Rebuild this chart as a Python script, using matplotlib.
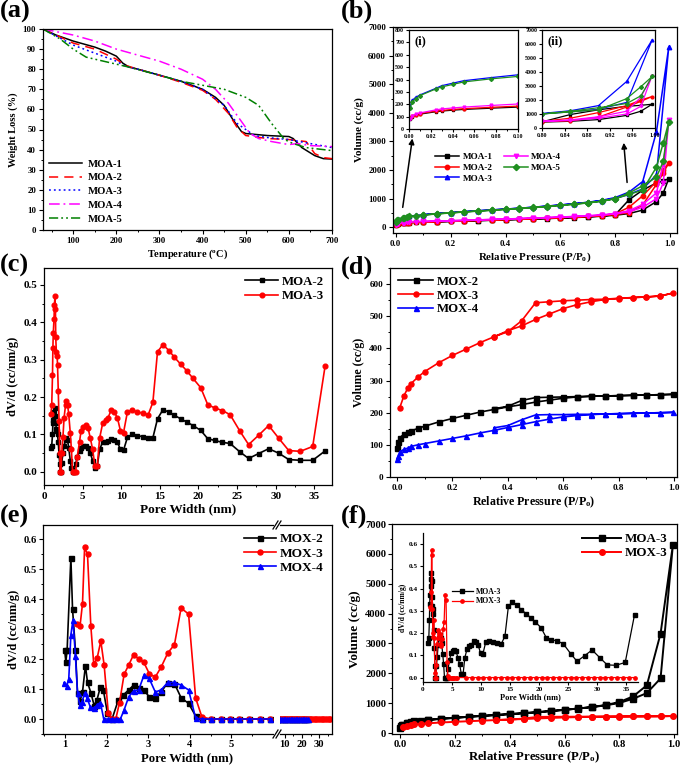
import numpy as np
import matplotlib
matplotlib.use("Agg")
import matplotlib.pyplot as plt
from matplotlib.ticker import MultipleLocator, FormatStrFormatter, FixedLocator
from matplotlib.lines import Line2D

plt.rcParams['font.family'] = 'Liberation Serif'
plt.rcParams['font.weight'] = 'bold'
plt.rcParams['axes.labelweight'] = 'bold'
plt.rcParams['mathtext.fontset'] = 'custom'
plt.rcParams['mathtext.rm'] = 'Liberation Serif:bold'
plt.rcParams['mathtext.it'] = 'Liberation Serif:bold:italic'
plt.rcParams['mathtext.bf'] = 'Liberation Serif:bold'
plt.rcParams['axes.linewidth'] = 0.9

W, H = 685, 767
nan = np.nan

# ---------------- (a) TGA ----------------
tga_names = ['MOA-1', 'MOA-2', 'MOA-3', 'MOA-4', 'MOA-5']
tga_x1 = [30, 60, 100, 150, 175, 200, 215, 230, 250, 300, 350, 400, 430, 450, 470, 490, 500, 550, 600, 610, 630, 660, 680, 700]
tga_y1 = [100, 97, 94, 91, 89, 86.5, 83, 81, 80, 77, 74, 70, 66, 62, 55, 49, 48, 47, 46.5, 45.5, 41, 37, 35.5, 35.3]
tga_x2 = [30, 100, 150, 200, 220, 250, 300, 350, 400, 430, 460, 480, 500, 550, 600, 640, 660, 680, 700]
tga_y2 = [100, 93, 90, 85, 82, 80, 77, 73.5, 69.5, 65, 58, 51, 47, 45.5, 45, 44, 38, 36, 35.5]
tga_x3 = [30, 100, 150, 200, 220, 250, 300, 350, 400, 450, 480, 500, 520, 550, 600, 650, 700]
tga_y3 = [100, 92, 88, 84, 81.5, 80, 77, 74, 70, 62, 53, 50, 47, 46, 45, 43, 41]
tga_x4 = [30, 100, 150, 200, 250, 300, 350, 400, 430, 460, 490, 510, 530, 560, 600, 620, 650, 700]
tga_y4 = [100, 97, 94, 90, 87, 84, 80, 75, 70, 63, 54, 48, 45.5, 44, 42.5, 43, 42, 41.5]
tga_x5 = [30, 70, 100, 130, 150, 200, 230, 300, 350, 400, 450, 500, 530, 560, 590, 610, 640, 700]
tga_y5 = [100, 95, 90, 86, 85, 82.5, 81, 77, 74, 72, 70, 66, 62, 53, 45, 43, 41, 39.5]

# ---------------- (b) MOA isotherms ----------------
moa_names = ['MOA-1', 'MOA-2', 'MOA-3', 'MOA-4', 'MOA-5']
p_ads = [0.001, 0.003, 0.006, 0.01, 0.025, 0.03, 0.04, 0.05, 0.075, 0.1, 0.15, 0.2, 0.25, 0.3,
         0.35, 0.4, 0.45, 0.5, 0.55, 0.6, 0.65, 0.7, 0.75, 0.8, 0.85, 0.9, 0.95, 0.975, 0.995]
p_des = [0.975, 0.95, 0.9, 0.85, 0.8, 0.75, 0.7, 0.65, 0.6, 0.55, 0.5, 0.45, 0.4, 0.35, 0.3,
         0.25, 0.2, 0.15, 0.1]
moa1_ads = [80, 100, 110, 120, 140, 145, 152, 158, 168, 177, 190, 205, 218, 232, 245, 260, 275, 290,
            305, 320, 340, 360, 385, 420, 480, 600, 900, 1200, 1700]
moa1_des = [1620, 1550, 1300, 960, 440, 395, 368, 345, 325, 308, 293, 278, 262, 248, 235, 220, 207, 192, 178]
moa2_ads = [85, 105, 115, 125, 145, 150, 158, 164, 175, 185, 198, 213, 227, 241, 255, 270, 286, 302,
            318, 335, 355, 378, 405, 445, 510, 780, 1500, 1900, 2250]
moa2_des = [2000, 1600, 1100, 700, 470, 415, 385, 360, 340, 322, 305, 290, 273, 258, 244, 230, 215, 200, 186]
moa3_ads = [180, 232, 255, 275, 330, 350, 370, 390, 415, 438, 480, 510, 545, 575, 605, 635, 665, 700,
            740, 780, 825, 875, 940, 1040, 1230, 1600, 3330, nan, 6300]
moa3_des = [nan, 1830, 1340, 1150, 1010, 930, 870, 822, 778, 738, 700, 667, 637, 607, 578, 548, 513, 482, 440]
moa4_ads = [82, 105, 120, 130, 155, 162, 170, 177, 190, 202, 215, 228, 243, 258, 272, 288, 303, 320,
            336, 355, 375, 398, 425, 470, 540, 700, 1000, 1550, 3750]
moa4_des = [2200, 1200, 800, 580, 480, 430, 402, 380, 358, 340, 323, 306, 290, 275, 260, 245, 230, 217, 204]
moa5_ads = [170, 220, 245, 270, 325, 340, 360, 380, 405, 425, 468, 500, 535, 565, 595, 625, 655, 690,
            725, 765, 805, 850, 910, 1000, 1150, 1300, 2100, 2950, 3680]
moa5_des = [2300, 1750, 1450, 1200, 1000, 915, 858, 810, 768, 730, 693, 660, 630, 600, 570, 540, 505, 472, 430]

# ---------------- (c) MOA PSD ----------------
psd_w = [0.9, 1.0, 1.1, 1.15, 1.2, 1.3, 1.35, 1.42, 1.48, 1.52, 1.6, 1.7, 1.75, 1.85, 1.95, 2.05, 2.1,
         2.2, 2.3, 2.45, 2.6, 2.8, 2.9, 3.05, 3.2, 3.4, 3.55, 3.7, 3.9, 4.1, 4.3, 4.6, 4.8, 5.1, 5.4,
         5.7, 6.0, 6.3, 6.6, 6.9, 7.2, 7.6, 8.0, 8.3, 8.7, 9.1, 9.5, 9.9, 10.3, 10.8, 11.4, 12.1,
         12.8, 13.5, 14.1, 14.7, 15.4, 16.2, 16.9, 17.7, 18.5, 19.3, 20.3, 21.2, 22.1, 23.1, 24.1,
         25.4, 26.5, 27.8, 29.1, 30.4, 31.7, 33.2, 34.8, 36.4]
psd_moa2 = [0.065, 0.07, 0.1, 0.13, 0.14, 0.15, 0.16, 0.17, 0.15, 0.13, 0.115, 0.11, 0.1, 0.08, 0.045,
            0.02, 0.0, 0.0, 0.025, 0.05, 0.07, 0.085, 0.09, 0.085, 0.065, 0.03, 0.01, 0.0, 0.0, 0.02,
            0.04, 0.055, 0.065, 0.07, 0.07, 0.065, 0.05, 0.03, 0.01, 0.015, 0.06, 0.08, 0.08, 0.083,
            0.088, 0.085, 0.08, 0.06, 0.058, 0.092, 0.1, 0.097, 0.094, 0.09, 0.091, 0.142, 0.166, 0.16,
            0.151, 0.142, 0.133, 0.124, 0.111, 0.089, 0.084, 0.079, 0.076, 0.053, 0.036, 0.049, 0.062,
            0.05, 0.033, 0.031, 0.031, 0.056]
psd_moa3 = [0.155, 0.178, 0.258, 0.33, 0.37, 0.41, 0.445, 0.47, 0.435, 0.36, 0.32, 0.31, 0.287, 0.215,
            0.135, 0.05, 0.0, 0.0, 0.05, 0.092, 0.145, 0.18, 0.19, 0.18, 0.155, 0.105, 0.06, 0.0, 0.0,
            0.0, 0.04, 0.08, 0.11, 0.12, 0.125, 0.118, 0.09, 0.06, 0.015, 0.015, 0.09, 0.13, 0.14,
            0.145, 0.165, 0.16, 0.145, 0.11, 0.105, 0.16, 0.165, 0.16, 0.157, 0.153, 0.186, 0.321,
            0.34, 0.324, 0.306, 0.288, 0.27, 0.25, 0.225, 0.18, 0.171, 0.164, 0.153, 0.108, 0.073,
            0.098, 0.124, 0.09, 0.057, 0.055, 0.068, 0.282]

# ---------------- (d) MOX isotherms ----------------
mox_names = ['MOX-2', 'MOX-3', 'MOX-4']
pm_ads = [0.001, 0.005, 0.01, 0.025, 0.04, 0.05, 0.075, 0.1, 0.15, 0.2, 0.25, 0.3, 0.35, 0.4, 0.45,
          0.5, 0.55, 0.6, 0.65, 0.7, 0.75, 0.8, 0.85, 0.9, 0.95, 0.995]
pm_des = [0.95, 0.9, 0.85, 0.8, 0.75, 0.7, 0.65, 0.6, 0.55, 0.5, 0.45, 0.4, 0.35]
mox2_ads = [90, 110, 122, 133, 140, 143, 151, 158, 171, 182, 192, 202, 210, 218, 225, 233, 239, 245,
            249, 251, 252, 253, 254, 255, 256, 257]
mox2_des = [256, 255, 254, 253, 252, 251, 250, 249, 248, 247, 238, 220, 212]
mox3_ads = [nan, nan, 215, 252, 278, 290, 310, 328, 355, 378, 398, 418, 436, 455, 470, 490, 507, 524,
            536, 545, 552, 555, 558, 560, 563, 572]
mox3_des = [563, 560, 558, 556, 553, 552, 550, 548, 545, 542, 486, 452, 436]
mox4_ads = [55, 65, 78, 86, 90, 95, 100, 104, 112, 120, 128, 137, 145, 154, 163, 172, 180, 187, 191,
            194, 196, 197, 198, 199, 200, 201]
mox4_des = [200, 199, 198, 197, 196, 195, 195, 194, 194, 193, 178, 160, 153]

# ---------------- (e) MOX PSD ----------------
mox2_w = [0.99, 1.02, 1.05, 1.14, 1.18, 1.25, 1.30, 1.36, 1.42, 1.49, 1.54, 1.62, 1.70, 1.77, 1.85,
          1.92, 2.02, 2.13, 2.28, 2.40, 2.53, 2.65, 2.77, 2.89, 3.02, 3.17, 3.31, 3.47, 3.63, 3.79,
          3.97, 4.14, 4.29]
mox2_v = [0.23, 0.19, 0.23, 0.538, 0.367, 0.23, 0.086, 0.06, 0.09, 0.178, 0.122, 0.088, 0.045, 0.065,
          0.107, 0.097, 0.019, 0.0, 0.063, 0.08, 0.097, 0.113, 0.102, 0.097, 0.075, 0.07, 0.091, 0.12,
          0.118, 0.071, 0.052, 0.01, 0.0]
mox3_w = [1.28, 1.36, 1.42, 1.47, 1.54, 1.62, 1.69, 1.77, 1.86, 1.94, 2.04, 2.14, 2.22, 2.31, 2.42,
          2.53, 2.65, 2.77, 2.89, 3.03, 3.17, 3.31, 3.47, 3.63, 3.79, 3.97, 4.14, 4.29]
mox3_v = [0.317, 0.31, 0.385, 0.572, 0.549, 0.31, 0.183, 0.202, 0.26, 0.18, 0.02, 0.0, 0.0, 0.055,
          0.149, 0.18, 0.215, 0.2, 0.19, 0.15, 0.14, 0.173, 0.22, 0.248, 0.37, 0.35, 0.07, 0.007]
mox4_w = [0.98, 1.04, 1.09, 1.14, 1.19, 1.25, 1.30, 1.35, 1.41, 1.47, 1.53, 1.61, 1.69, 1.77, 1.85,
          1.93, 2.04, 2.14, 2.22, 2.33, 2.42, 2.53, 2.65, 2.77, 2.90, 3.02, 3.17, 3.31, 3.47, 3.63,
          3.79, 3.97, 4.14, 4.29]
mox4_v = [0.121, 0.111, 0.135, 0.28, 0.33, 0.21, 0.086, 0.048, 0.058, 0.086, 0.07, 0.039, 0.036,
          0.047, 0.055, 0.0, 0.0, 0.0, 0.0, 0.0, 0.03, 0.074, 0.094, 0.097, 0.147, 0.136, 0.09,
          0.097, 0.122, 0.122, 0.113, 0.097, 0.003, 0.0]
# zero tails (pores wider than 4.3 nm)
tail_short = [4.5, 4.74, 4.96, 5.18, 5.42, 5.68, 5.92, 7.4, 8.4, 9.4, 10.4, 11.4, 12.4, 13.4, 14.4,
              15.4, 16.4, 17.4, 18.4, 19.4, 20.4, 21.4, 22.4, 23.4]
tail_long = tail_short + [24.4, 25.4, 26.4, 27.4, 28.4, 29.4, 30.4, 31.4, 32.4, 33.4, 34.4, 35.4, 36.4]


fig = plt.figure(figsize=(W / 100, H / 100), dpi=100)


def px_axes(l, t, r, b, **kw):
    return fig.add_axes([l / W, 1 - b / H, (r - l) / W, (b - t) / H], **kw)


def style(ax, fs, length=3, pad=2):
    ax.tick_params(which='major', direction='out', length=length, width=0.8, labelsize=fs,
                   top=False, right=False, pad=pad)
    ax.tick_params(which='minor', direction='out', length=length * 0.55, width=0.7,
                   top=False, right=False)
    for lab in ax.get_xticklabels() + ax.get_yticklabels():
        lab.set_fontweight('bold')


def panel_letter(x, y, s):
    fig.text(x / W, 1 - y / H, s, fontsize=19, fontweight='bold', va='top', ha='left')


# ---------- (a) ----------
ax = px_axes(43, 29, 332, 230)
ax.plot(tga_x1, tga_y1, color='k', lw=1.1, ls='-', label=tga_names[0])
ax.plot(tga_x2, tga_y2, color='red', lw=1.1, ls=(0, (6, 4)), label=tga_names[1])
ax.plot(tga_x3, tga_y3, color='blue', lw=1.1, ls=(0, (1.2, 2)), label=tga_names[2])
ax.plot(tga_x4, tga_y4, color='magenta', lw=1.1, ls=(0, (7, 2.5, 1.2, 2.5)), label=tga_names[3])
ax.plot(tga_x5, tga_y5, color='green', lw=1.1, ls=(0, (6, 2, 1.2, 2, 1.2, 2)), label=tga_names[4])
ax.set_xlim(30, 700)
ax.set_ylim(0, 100)
ax.xaxis.set_major_locator(MultipleLocator(100))
ax.xaxis.set_minor_locator(MultipleLocator(50))
ax.yaxis.set_major_locator(MultipleLocator(10))
ax.yaxis.set_minor_locator(MultipleLocator(5))
ax.set_xlabel('Temperature ($^\\mathrm{o}$C)', fontsize=7.5, labelpad=2)
ax.set_ylabel('Weight Loss (%)', fontsize=7.5, labelpad=3)
style(ax, 6.3)
ax.legend(loc='lower left', frameon=False, fontsize=7.7, handlelength=3.0, labelspacing=0.4,
          borderaxespad=0.2, handletextpad=0.6)
panel_letter(0, 0, '(a)')

# ---------- (b) ----------
moa_ads = [moa1_ads, moa2_ads, moa3_ads, moa4_ads, moa5_ads]
moa_des = [moa1_des, moa2_des, moa3_des, moa4_des, moa5_des]
moa_cols = ['k', 'red', 'blue', 'magenta', '#1f8f1f']
moa_mk = ['s', 'o', '^', 'v', 'D']


def plot_moa(a, ms, lw):
    hs = []
    for name, ya, yd, c, m in zip(moa_names, moa_ads, moa_des, moa_cols, moa_mk):
        pa = [p for p, v in zip(p_ads, ya) if not np.isnan(v)]
        va = [v for v in ya if not np.isnan(v)]
        pd_ = [p for p, v in zip(p_des, yd) if not np.isnan(v)]
        vd = [v for v in yd if not np.isnan(v)]
        h, = a.plot(pa + pd_, va + vd, color=c, marker=m, ms=ms, lw=lw, label=name)
        hs.append(h)
    return hs


ax = px_axes(393, 27, 677, 233)
hs = plot_moa(ax, 3.2, 1.1)
ax.set_xlim(-0.01, 1.025)
ax.set_ylim(-200, 7000)
ax.xaxis.set_major_locator(MultipleLocator(0.2))
ax.xaxis.set_minor_locator(MultipleLocator(0.1))
ax.xaxis.set_major_formatter(FormatStrFormatter('%.1f'))
ax.yaxis.set_major_locator(MultipleLocator(1000))
ax.yaxis.set_minor_locator(MultipleLocator(500))
ax.set_xlabel('Relative Pressure (P/P$_\\mathrm{o}$)', fontsize=7.8, labelpad=2)
ax.set_ylabel('Volume (cc/g)', fontsize=8, labelpad=3)
style(ax, 6.3)
ax.legend(handles=hs, ncol=2, loc='upper left',
          bbox_to_anchor=(0.12, 0.43), frameon=False, fontsize=6.6, handlelength=2.6,
          labelspacing=0.25, columnspacing=1.2, handletextpad=0.4)
ax.annotate('', xy=(0.062, 3200), xytext=(0.024, 600),
            arrowprops=dict(arrowstyle='-|>', color='k', lw=1.1, mutation_scale=8))
ax.annotate('', xy=(0.83, 3050), xytext=(0.844, 1470),
            arrowprops=dict(arrowstyle='-|>', color='k', lw=1.1, mutation_scale=8))
panel_letter(341, 0, '(b)')

axi = px_axes(409, 30, 518, 129)
plot_moa(axi, 2.0, 0.9)
axi.set_xlim(0, 0.1)
axi.set_ylim(0, 800)
axi.xaxis.set_major_locator(MultipleLocator(0.02))
axi.xaxis.set_minor_locator(MultipleLocator(0.01))
axi.xaxis.set_major_formatter(FormatStrFormatter('%.2f'))
axi.yaxis.set_major_locator(MultipleLocator(100))
style(axi, 4.3, length=2, pad=1.5)
axi.text(0.05, 0.95, '(i)', transform=axi.transAxes, fontsize=9, fontweight='bold', va='top')

axii = px_axes(542, 30, 655, 128)
plot_moa(axii, 2.0, 0.9)
axii.set_xlim(0.8, 1.0)
axii.set_ylim(0, 7000)
axii.xaxis.set_major_locator(MultipleLocator(0.04))
axii.xaxis.set_major_formatter(FormatStrFormatter('%.2f'))
axii.yaxis.set_major_locator(MultipleLocator(1000))
style(axii, 4.3, length=2, pad=1.5)
axii.text(0.05, 0.95, '(ii)', transform=axii.transAxes, fontsize=9, fontweight='bold', va='top')

# ---------- (c) ----------
ax = px_axes(44, 268, 332, 485)
ax.plot(psd_w, psd_moa2, color='k', marker='s', ms=3.0, lw=1.2, label='MOA-2')
ax.plot(psd_w, psd_moa3, color='red', marker='o', ms=3.4, lw=1.2, label='MOA-3')
ax.set_xlim(0, 37.3)
ax.set_ylim(-0.035, 0.545)
ax.xaxis.set_major_locator(MultipleLocator(5))
ax.xaxis.set_minor_locator(MultipleLocator(2.5))
ax.yaxis.set_major_locator(MultipleLocator(0.1))
ax.yaxis.set_minor_locator(MultipleLocator(0.05))
ax.yaxis.set_major_formatter(FormatStrFormatter('%.1f'))
ax.set_xlabel('Pore Width (nm)', fontsize=9.5, labelpad=1.5)
ax.set_ylabel('dV/d (cc/nm/g)', fontsize=9, labelpad=3)
style(ax, 8)
ax.legend(loc='upper right', frameon=False, fontsize=9.2, handlelength=2.6, labelspacing=0.2,
          borderaxespad=0.2, handletextpad=0.3)
panel_letter(0, 254, '(c)')

# ---------- (d) ----------
ax = px_axes(390, 268, 677, 477)
mox_ads = [mox2_ads, mox3_ads, mox4_ads]
mox_des = [mox2_des, mox3_des, mox4_des]
mox_cols = ['k', 'red', 'blue']
mox_mk = ['s', 'o', '^']
for name, ya, yd, c, m in zip(mox_names, mox_ads, mox_des, mox_cols, mox_mk):
    ax.plot(pm_ads + pm_des, ya + yd, color=c, marker=m, ms=3.6, lw=1.2, label=name)
ax.set_xlim(-0.025, 1.01)
ax.set_ylim(0, 650)
ax.xaxis.set_major_locator(MultipleLocator(0.2))
ax.xaxis.set_minor_locator(MultipleLocator(0.1))
ax.xaxis.set_major_formatter(FormatStrFormatter('%.1f'))
ax.yaxis.set_major_locator(MultipleLocator(100))
ax.yaxis.set_minor_locator(MultipleLocator(50))
ax.set_xlabel('Relative Pressure (P/P$_\\mathrm{o}$)', fontsize=8.6, labelpad=2)
ax.set_ylabel('Volume (cc/g)', fontsize=8.6, labelpad=3)
style(ax, 6.6)
ax.legend(loc='upper left', frameon=False, fontsize=9.2, handlelength=2.8, labelspacing=0.15,
          borderaxespad=0.2, handletextpad=0.3)
panel_letter(341, 256, '(d)')

# ---------- (e) broken axis ----------
axl = px_axes(43, 525, 273, 734)
axr = px_axes(280, 525, 332, 734)
e_w = [mox2_w, mox3_w, mox4_w]
e_v = [mox2_v, mox3_v, mox4_v]
e_tails = [tail_short, tail_long, tail_short]
for a in (axl, axr):
    for name, w, v, t, c, m in zip(mox_names, e_w, e_v, e_tails, mox_cols, mox_mk):
        a.plot(w + t, v + [0.0] * len(t), color=c, marker=m, ms=3.6, lw=1.2, label=name)
    a.set_ylim(-0.05, 0.647)
axl.set_xlim(0.47, 6.0)
axr.set_xlim(7.3, 37.4)
axl.spines['right'].set_visible(False)
axr.spines['left'].set_visible(False)
axl.xaxis.set_major_locator(FixedLocator([1, 2, 3, 4, 5]))
axl.xaxis.set_minor_locator(FixedLocator([0.5, 1.5, 2.5, 3.5, 4.5, 5.5]))
axl.yaxis.set_major_locator(MultipleLocator(0.1))
axl.yaxis.set_minor_locator(MultipleLocator(0.05))
axl.yaxis.set_major_formatter(FormatStrFormatter('%.1f'))
axr.set_xticks([10, 20, 30])
axr.set_xticks([15, 25, 35], minor=True)
axr.set_yticks([])
axl.set_ylabel('dV/d (cc/nm/g)', fontsize=9, labelpad=3)
fig.text(187 / W, 1 - 758 / H, 'Pore Width (nm)', fontsize=9.2, fontweight='bold', ha='center', va='center')
style(axl, 7.6, pad=1.2)
style(axr, 7.6, pad=1.2)
axr.legend(loc='upper right', bbox_to_anchor=(1.0, 1.0), frameon=False, fontsize=9.6,
           handlelength=2.4, labelspacing=0.15, borderaxespad=0.2, handletextpad=0.3)
for yb in (525, 734):
    for dx in (0, 3):
        fig.add_artist(Line2D([(273 + dx) / W, (278 + dx) / W], [1 - (yb + 4) / H, 1 - (yb - 4) / H],
                              color='k', lw=0.9))
panel_letter(0, 505, '(e)')

# ---------- (f) ----------
ax = px_axes(392, 524, 677, 734)
ax.plot(p_ads[:27] + [p_ads[28]] + p_des[1:], [v for v in moa3_ads if not np.isnan(v)] + moa3_des[1:],
        color='k', marker='s', ms=4, lw=1.4, label='MOA-3')
ax.plot(pm_ads[2:] + pm_des, mox3_ads[2:] + mox3_des, color='red', marker='o', ms=4, lw=1.4,
        label='MOX-3')
ax.set_xlim(-0.03, 1.01)
ax.set_ylim(-30, 7000)
ax.xaxis.set_major_locator(MultipleLocator(0.2))
ax.xaxis.set_minor_locator(MultipleLocator(0.1))
ax.xaxis.set_major_formatter(FormatStrFormatter('%.1f'))
ax.yaxis.set_major_locator(MultipleLocator(1000))
ax.yaxis.set_minor_locator(MultipleLocator(500))
ax.set_xlabel('Relative Pressure (P/P$_\\mathrm{o}$)', fontsize=9.2, labelpad=0.5)
ax.set_ylabel('Volume (cc/g)', fontsize=9.5, labelpad=3)
style(ax, 7.6, pad=1.2)
ax.legend(loc='upper right', frameon=False, fontsize=9.4, handlelength=3.0, labelspacing=0.15,
          borderaxespad=0.3, handletextpad=0.3)
panel_letter(341, 505, '(f)')

axf = px_axes(423, 533, 638, 682)
axf.set_facecolor('none')
axf.spines['top'].set_visible(False)
axf.spines['right'].set_visible(False)
axf.plot(psd_w, psd_moa3, color='k', marker='s', ms=2.2, lw=0.9, label='MOA-3')
axf.plot(mox3_w + tail_long, mox3_v + [0.0] * len(tail_long), color='red', marker='o', ms=2.4,
         lw=0.9, label='MOX-3')
axf.set_xlim(0, 37)
axf.set_ylim(-0.02, 0.65)
axf.xaxis.set_major_locator(MultipleLocator(5))
axf.yaxis.set_major_locator(MultipleLocator(0.1))
axf.yaxis.set_major_formatter(FormatStrFormatter('%.1f'))
axf.set_xlabel('Pore Width (nm)', fontsize=6, labelpad=1)
axf.set_ylabel('dV/d (cc/nm/g)', fontsize=5.5, labelpad=1.5)
style(axf, 5.2, length=2, pad=1.5)
axf.legend(loc='upper left', bbox_to_anchor=(0.1, 0.68), frameon=False, fontsize=5.6,
           handlelength=2.8, labelspacing=0.2, handletextpad=0.3)

fig.savefig('out.png', dpi=100)
